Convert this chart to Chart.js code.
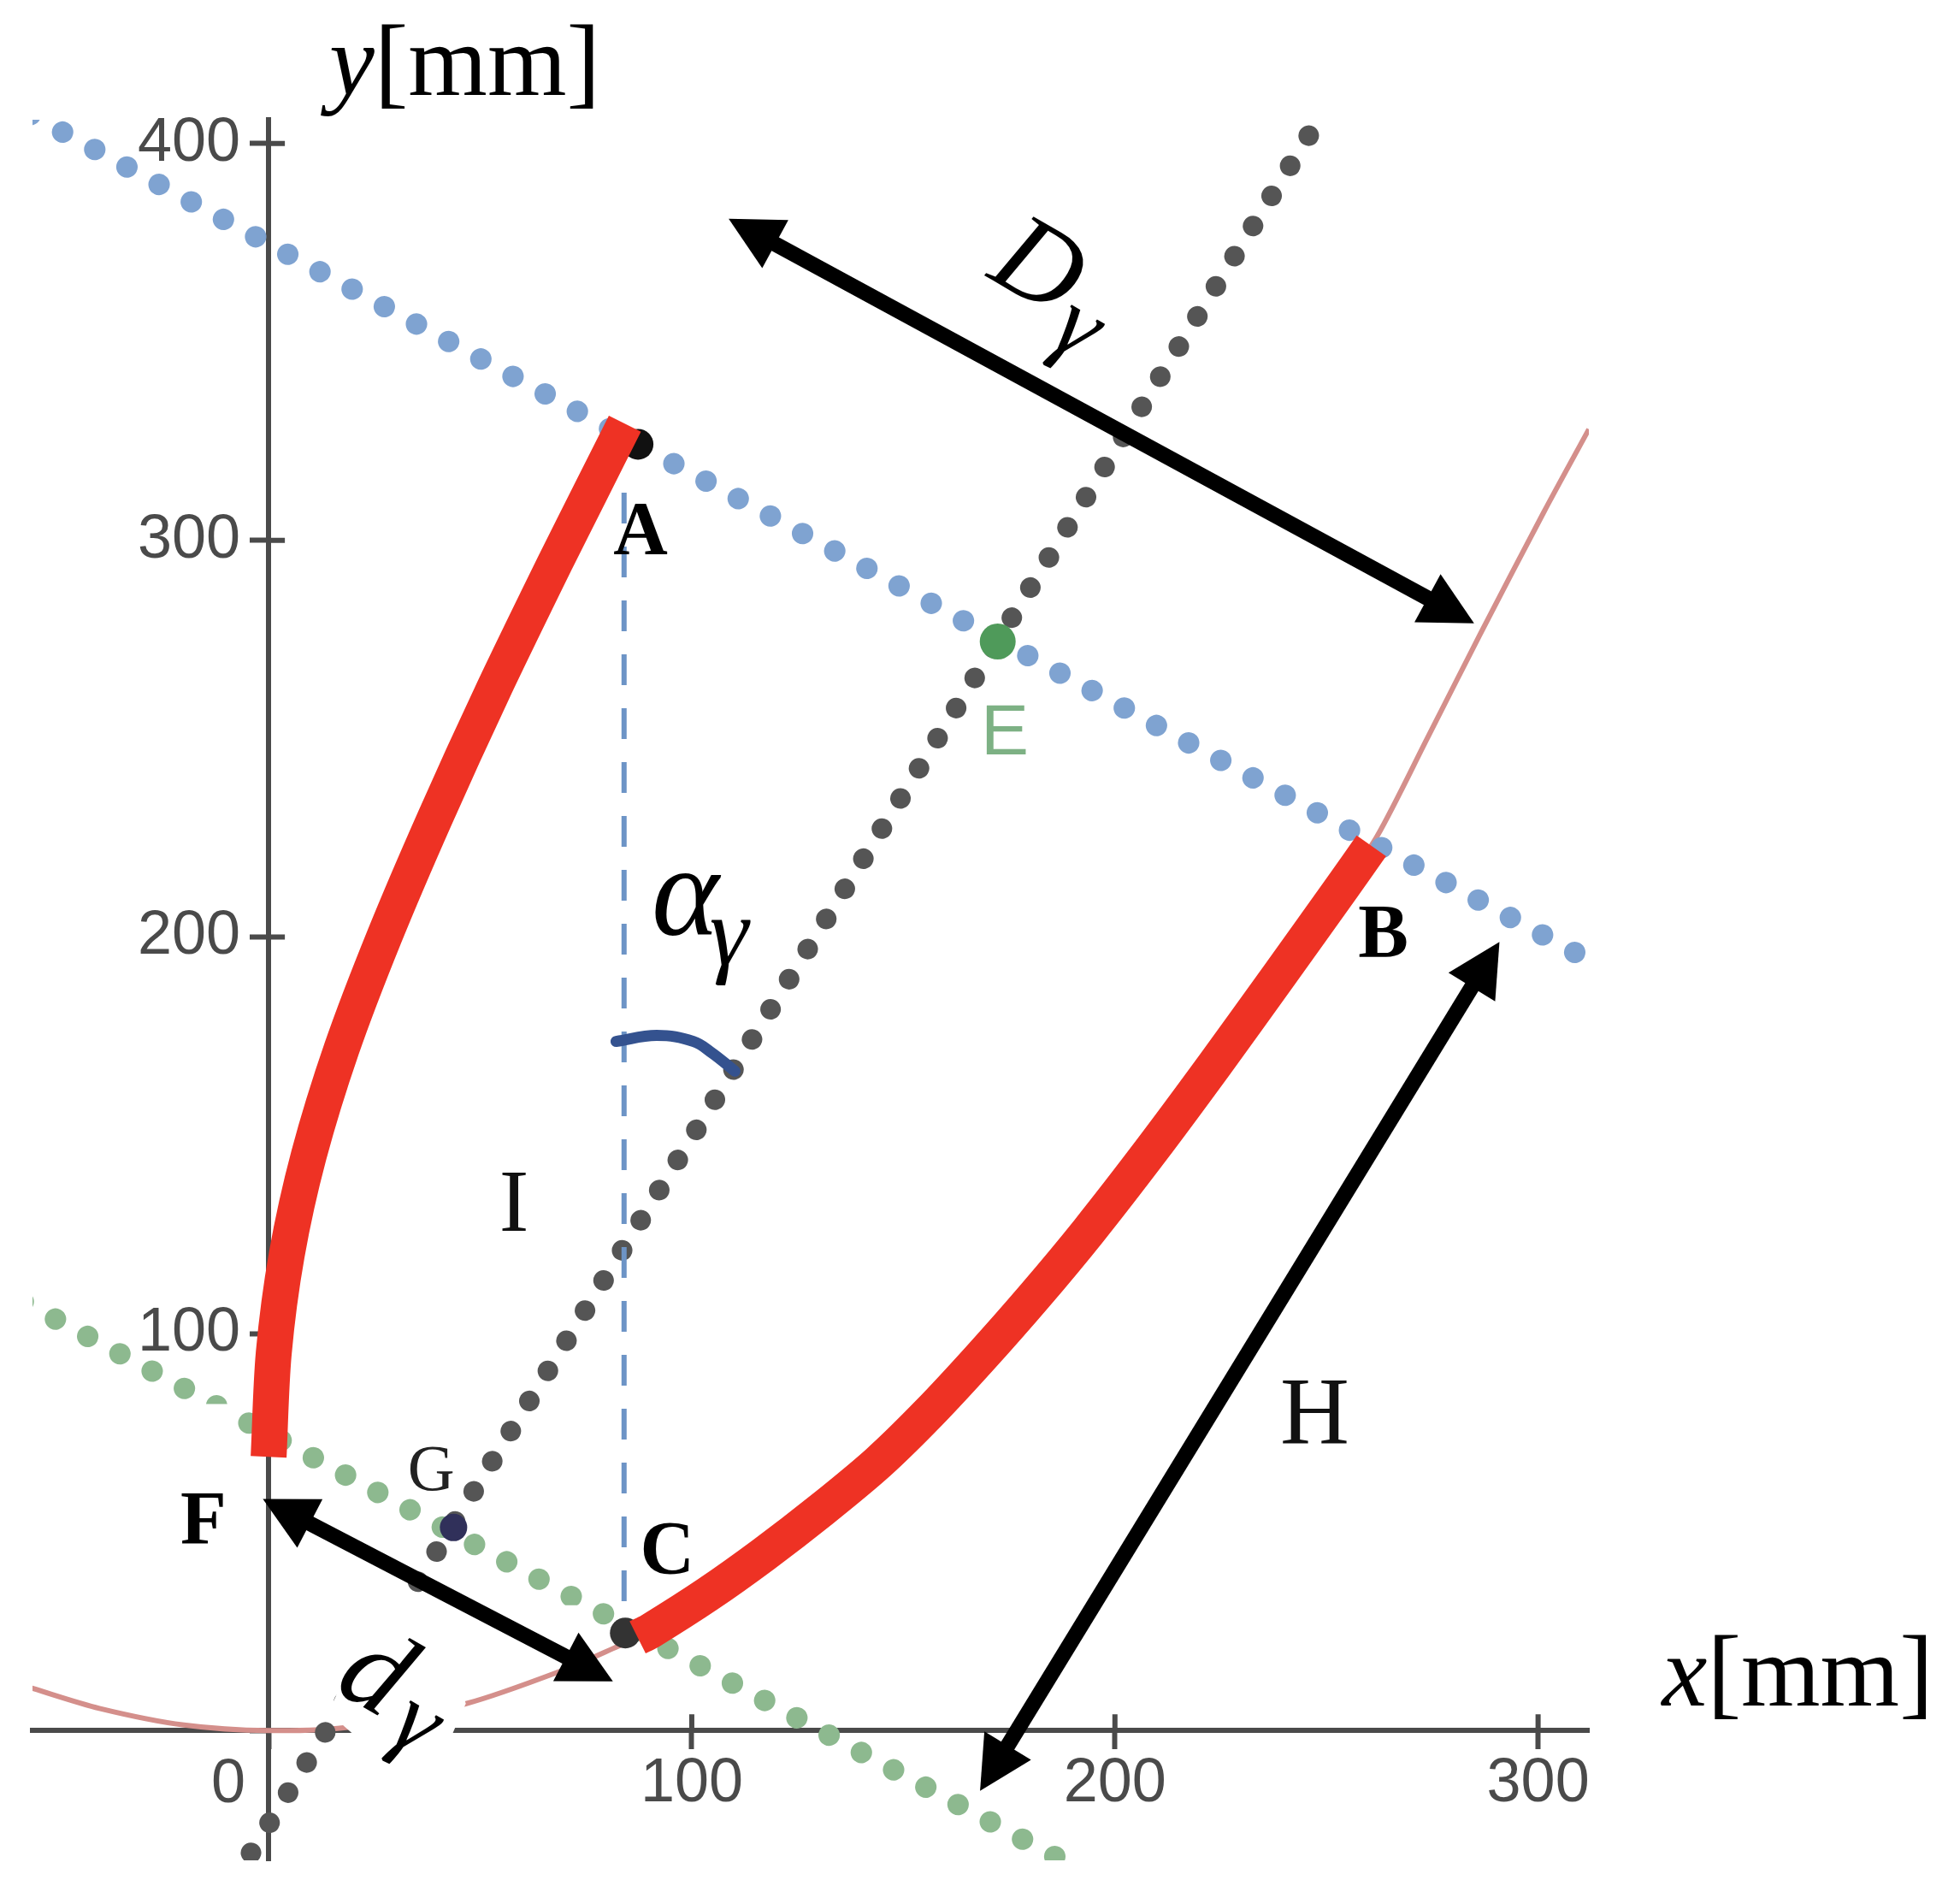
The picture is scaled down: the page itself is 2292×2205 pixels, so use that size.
<!DOCTYPE html>
<html><head><meta charset="utf-8">
<style>html,body{margin:0;padding:0;background:#fff}canvas{display:block}</style>
<script src="https://cdn.jsdelivr.net/npm/chart.js@4"></script>
</head><body><canvas id="c" width="2292" height="2205"></canvas>
<script>
// Tick labels
const xTickValues=[100,200,300];
const yTickValues=[100,200,300,400];
// Curves (mm)
const parabolaX=[-56,-40,-20,0,20,46.7,69.5,82,87.2,103.7,117,130.6,144.1,156,168.2,181,193.7,208.4,223.7,238.9,254,262,274,286.4,301.3,312];
const parabolaY=[10.7,5.6,1.4,0,1,6.8,15.2,21,23.5,34.3,44.4,55.6,67.6,80,94,109.5,125.8,146,168,190.5,213,225.5,250.5,276.5,307,328];
const edgeLeftX=[84.2,76,68,53,39.3,27.3,17.3,9.5,4.3,1.2,0];
const edgeLeftY=[329.4,312,295,262,230,200,172,145,120,95,69];
const edgeRightX=[87.2,90.2,103.7,117,130.6,144.1,156,168.2,181,193.7,208.4,223.7,238.9,254,260.6];
const edgeRightY=[23.5,25.1,34.3,44.4,55.6,67.6,80,94,109.5,125.8,146,168,190.5,213,223];
// Straight construction lines (mm)
const blueLineX=[-56.3,316], blueLineY=[407.3,191.9];
const greenLineX=[-58,188], greenLineY=[108.1,-33];
const greyLineX=[245.8,-6], greyLineY=[402,-34];
const dashedX=[84,84], dashedY=[312,25.8];
const arcX=[82.1,91.7,100.4,104.9,110.2], arcY=[173.7,175.2,173.7,170.7,166.2];
// Named points (mm)
const pointA=[87.3,324.2], pointC=[84.3,24.6], pointG=[43.7,51.2], pointE=[172.3,274.5];
// Dimension arrows: shaft ends (mm)
const arrowDX=[117.6,276], arrowDY=[375.9,284.2];
const arrowHX=[285.6,173.4], arrowHY=[189.6,-6];
const arrowdX=[7.6,72.4], arrowdY=[53.4,17.4];
const zip=(a,b)=>a.map((v,i)=>({x:v,y:b[i]}));
const SERIF='"Liberation Serif"', SANS='"Liberation Sans"';
// Annotation text, anchored in mm
const textItems=[
 {t:'0',x:-9.5,y:-18,f:`72px ${SANS}`,c:'#4a4a4a'},
 {t:'A',x:87.9,y:296.8,f:`bold 88px ${SERIF}`,c:'#000'},
 {t:'B',x:263.4,y:195.2,f:`bold 88px ${SERIF}`,c:'#000'},
 {t:'C',x:94.2,y:39.7,f:`bold 88px ${SERIF}`,c:'#000'},
 {t:'F',x:-15.4,y:47.2,f:`bold 88px ${SERIF}`,c:'#000'},
 {t:'G',x:38.4,y:60.6,f:`76px ${SERIF}`,c:'#222'},
 {t:'I',x:58,y:125.9,f:`104px ${SERIF}`,c:'#111'},
 {t:'H',x:247.2,y:72.6,f:`112px ${SERIF}`,c:'#111'},
 {t:'E',x:174,y:246,f:`84px ${SANS}`,c:'#7db184'},
 {t:'α',x:90.5,y:200.5,f:`italic 150px ${SERIF}`,c:'#000',a:'left'},
 {t:'γ',x:104.2,y:193,f:`italic 115px ${SERIF}`,c:'#000',a:'left'},
 {t:'D',x:181.5,y:368,f:`italic 135px ${SERIF}`,c:'#000',r:30,b:'middle'},
 {t:'γ',x:191,y:353,f:`italic 115px ${SERIF}`,c:'#000',r:30,b:'middle'},
 {t:'d',x:24.9,y:13.5,f:`italic 140px ${SERIF}`,c:'#000',r:30,b:'middle'},
 {t:'γ',x:34.8,y:1.2,f:`italic 115px ${SERIF}`,c:'#000',r:30,b:'middle'}
];
const axisTitles=[
 {x:14.3,y:412.3,parts:['y','[mm]']},
 {x:329.3,y:6.4,parts:['x','[mm]']}
];
// White cover-ups in the figure (mm)
const masks=[
 [[26.7,33.4],[38.5,32.6],[46.6,6.8],[40,-9.1],[21.5,-2.3],[14.1,4.6]],
 [[-16.2,82.3],[-8.1,82.3],[-8.1,77.3],[-16.2,77.3]],
 [[66.5,31.6],[75.4,31.6],[75.4,28.2],[66.5,28.2]]
];
const line=(x,y,color,width,extra)=>Object.assign({data:zip(x,y),showLine:true,borderColor:color,borderWidth:width,pointRadius:0,borderCapStyle:'butt'},extra||{});
const dots=(x,y,color,width,gap)=>line(x,y,color,width,{borderDash:[0.1,gap],borderCapStyle:'round',clip:0});
const pt=(p,color,r)=>({data:[{x:p[0],y:p[1]}],showLine:false,pointRadius:r,pointBackgroundColor:color,pointBorderWidth:0});
const datasets=[
 line(parabolaX,parabolaY,'#d48f8b',6,{tension:0.3}),
 dots(blueLineX,blueLineY,'#7fa3d1',25,42.7),
 dots(greenLineX,greenLineY,'#8db98f',25,42.7),
 dots(greyLineX,greyLineY,'#555555',24,41.27),
 line(dashedX,dashedY,'#6d94c6',6,{borderDash:[36,27]}),
 pt(pointA,'#111111',18), pt(pointC,'#333333',18), pt(pointG,'#30305a',16),
 pt(pointE,'#4f9a5a',21),
 line(edgeLeftX,edgeLeftY,'#ee3224',42,{tension:0.3}),
 line(edgeRightX,edgeRightY,'#ee3224',42,{tension:0.3}),
 line(arcX,arcY,'#34528f',13,{tension:0.4,borderCapStyle:'round'}),
 line(arrowDX,arrowDY,'#000',18),
 line(arrowHX,arrowHY,'#000',18),
 line(arrowdX,arrowdY,'#000',18)
];
const maskAfter=11;
datasets.forEach((d,i)=>{d.order=datasets.length-i;});
const arrowPairs=[[arrowDX,arrowDY],[arrowHX,arrowHY],[arrowdX,arrowdY]];
const figurePlugin={
 id:'figure',
 beforeDatasetsDraw(chart){
  const {x,y}=chart.scales,ctx=chart.ctx,px0=x.getPixelForValue(0),py0=y.getPixelForValue(0);
  ctx.save();ctx.strokeStyle='#4a4a4a';ctx.lineWidth=6;ctx.beginPath();
  xTickValues.forEach(v=>{const p=x.getPixelForValue(v);ctx.moveTo(p,py0);ctx.lineTo(p,py0-19);});
  yTickValues.forEach(v=>{const p=y.getPixelForValue(v);ctx.moveTo(px0,p);ctx.lineTo(px0+19,p);});
  ctx.stroke();
  // y tick labels sit left of the crossing tick marks
  ctx.font=`72px ${SANS}`;ctx.fillStyle='#4a4a4a';ctx.textAlign='right';ctx.textBaseline='middle';
  yTickValues.forEach(v=>ctx.fillText(String(v),px0-33,y.getPixelForValue(v)));
  ctx.restore();
 },
 afterDatasetDraw(chart,args){
  if(args.index!==maskAfter)return;
  const {x,y}=chart.scales,ctx=chart.ctx;
  ctx.save();ctx.fillStyle='#fff';
  masks.forEach(m=>{ctx.beginPath();m.forEach((p,i)=>{const a=x.getPixelForValue(p[0]),b=y.getPixelForValue(p[1]);i?ctx.lineTo(a,b):ctx.moveTo(a,b);});ctx.closePath();ctx.fill();});
  ctx.restore();
 },
 afterDatasetsDraw(chart){
  const {x,y}=chart.scales,ctx=chart.ctx;
  ctx.save();ctx.fillStyle='#000';
  arrowPairs.forEach(([ax,ay])=>{
   const p=[0,1].map(i=>[x.getPixelForValue(ax[i]),y.getPixelForValue(ay[i])]);
   const dx=p[1][0]-p[0][0],dy=p[1][1]-p[0][1],l=Math.hypot(dx,dy),ux=dx/l,uy=dy/l;
   [[p[0],-1],[p[1],1]].forEach(([e,s])=>{
    const tx=e[0]+s*ux*50,ty=e[1]+s*uy*50,bx=e[0]-s*ux*12,by=e[1]-s*uy*12;
    ctx.beginPath();ctx.moveTo(tx,ty);ctx.lineTo(bx-uy*32,by+ux*32);ctx.lineTo(bx+uy*32,by-ux*32);ctx.closePath();ctx.fill();
   });
  });
  textItems.forEach(o=>{
   ctx.save();ctx.translate(x.getPixelForValue(o.x),y.getPixelForValue(o.y));
   if(o.r)ctx.rotate(o.r*Math.PI/180);
   ctx.font=o.f;ctx.fillStyle=o.c;ctx.textAlign=o.a||'center';ctx.textBaseline=o.b||'alphabetic';
   ctx.fillText(o.t,0,0);ctx.restore();
  });
  axisTitles.forEach(o=>{
   let px=x.getPixelForValue(o.x);const py=y.getPixelForValue(o.y);
   ctx.textAlign='left';ctx.textBaseline='alphabetic';ctx.fillStyle='#000';
   ctx.font=`italic 119px ${SERIF}`;ctx.fillText(o.parts[0],px,py);px+=ctx.measureText(o.parts[0]).width;
   ctx.font=`119px ${SERIF}`;ctx.fillText(o.parts[1],px,py);
  });
  ctx.restore();
 }
};
const scaleCommon=(pos,labels,min,max,pad,showLabels)=>({
 type:'linear',min,max,position:pos,
 border:{display:true,color:'#4a4a4a',width:6},
 grid:{display:true,drawOnChartArea:false,drawTicks:true,tickLength:19,tickWidth:6,tickColor:'#4a4a4a'},
 ticks:{display:showLabels,stepSize:100,includeBounds:false,autoSkip:false,maxRotation:0,padding:pad,color:'#4a4a4a',
  font:{family:'Liberation Sans',size:72},
  callback:v=>labels.includes(v)?String(v):''}
});
new Chart(document.getElementById('c'),{
 type:'scatter',
 data:{datasets},
 options:{
  responsive:false,animation:false,devicePixelRatio:1,events:[],
  layout:{padding:{left:38,right:434,top:140,bottom:30}},
  plugins:{legend:{display:false},title:{display:false},tooltip:{enabled:false}},
  scales:{
   x:scaleCommon({y:0},xTickValues,-55.8,312,1,true),
   y:scaleCommon({x:0},yTickValues,-32.7,406,9,false)
  }
 },
 plugins:[figurePlugin]
});
</script></body></html>
